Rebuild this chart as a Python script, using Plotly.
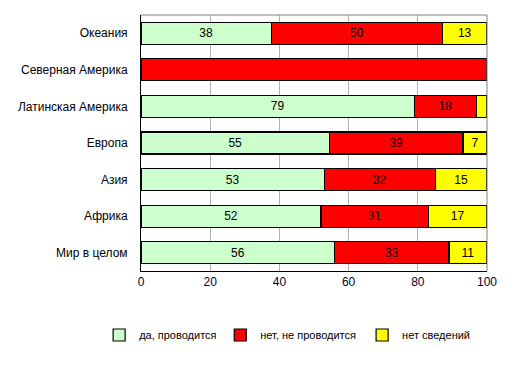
import plotly.graph_objects as go

categories = ["Мир в целом", "Африка", "Азия", "Европа", "Латинская Америка", "Северная Америка", "Океания"]
yes_vals = [56, 52, 53, 55, 79, 0, 38]
no_vals = [33, 31, 32, 39, 18, 100, 50]
na_vals = [11, 17, 15, 7, 3, 0, 13]
series_names = ["да, проводится", "нет, не проводится", "нет сведений"]
x_ticks = [0, 20, 40, 60, 80, 100]

def labels(vals, hide=()):
    return ["" if (v == 0 or c in hide) else str(v) for v, c in zip(vals, categories)]

colors = ["#CCFFCC", "#FF0000", "#FFFF00"]
texts = [labels(yes_vals), labels(no_vals, hide=("Северная Америка",)), labels(na_vals, hide=("Латинская Америка",))]
legend_ids = ["legend", "legend2", "legend3"]
legend_x = [-0.121, 0.229, 0.639]

fig = go.Figure()
for name, vals, col, txt, lg in zip(series_names, [yes_vals, no_vals, na_vals], colors, texts, legend_ids):
    fig.add_trace(go.Bar(
        y=categories, x=vals, name=name, orientation="h", legend=lg,
        marker=dict(color=col, line=dict(color="black", width=1.2)),
        text=txt, textposition="inside", insidetextanchor="middle",
        textfont=dict(color="black", size=12, family="Liberation Sans"),
        constraintext="none",
    ))

legend_common = dict(orientation="h", y=-0.25, yanchor="middle", xanchor="left",
                     font=dict(size=11, family="Liberation Sans", color="black"),
                     itemwidth=30, bgcolor="rgba(0,0,0,0)")

layout_legends = {lg: dict(legend_common, x=lx) for lg, lx in zip(legend_ids, legend_x)}

fig.update_layout(
    barmode="stack", barnorm="percent", bargap=0.4,
    width=514, height=370,
    margin=dict(l=141, r=27, t=15, b=99, autoexpand=False),
    paper_bgcolor="white", plot_bgcolor="white",
    font=dict(family="Liberation Sans", size=12, color="black"),
    showlegend=True,
    xaxis=dict(range=[0, 100], tickvals=x_ticks, showgrid=True, gridcolor="#B3B3B3",
               gridwidth=1, showline=True, linecolor="black", linewidth=1,
               zeroline=False, ticks="", automargin=False,
               tickfont=dict(size=12, color="#000033")),
    yaxis=dict(showline=True, linecolor="black", linewidth=1, ticks="", showgrid=False,
               automargin=False, ticksuffix="   ", tickfont=dict(size=12, color="black")),
    uniformtext=dict(mode="show", minsize=8),
    shapes=[
        dict(type="line", xref="paper", yref="paper", x0=0, x1=1, y0=1, y1=1,
             line=dict(color="#808080", width=1)),
        dict(type="line", xref="paper", yref="paper", x0=1, x1=1, y0=0, y1=1,
             line=dict(color="#808080", width=1)),
    ],
    **layout_legends,
)

fig.write_html("out.html", config={"displayModeBar": False},
               post_script="document.body.style.margin='0';")
